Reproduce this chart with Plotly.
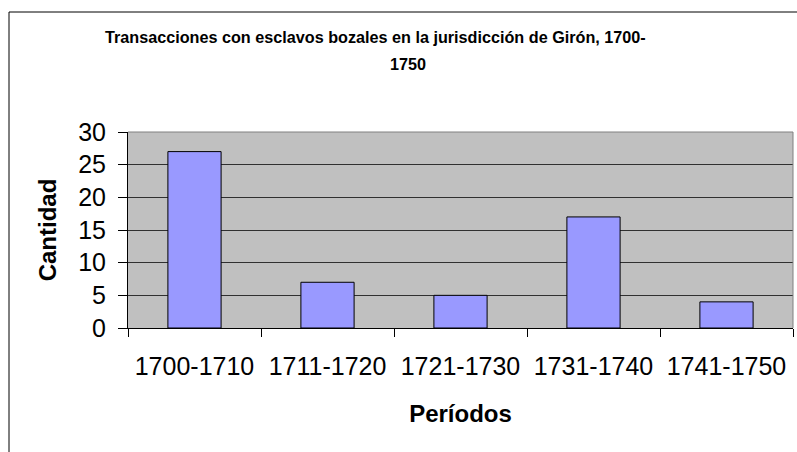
import plotly.graph_objects as go

# datos
periodos = ["1700-1710", "1711-1720", "1721-1730", "1731-1740", "1741-1750"]
cantidad = [27, 7, 5, 17, 4]

W, H = 797, 452
L, R, T, B = 128, 4, 132, 124
pw, ph = W - L - R, H - T - B


def px_x(x):
    return (x - L) / pw


def px_y(y):
    return (H - B - y) / ph


fig = go.Figure()
fig.add_trace(go.Bar(
    x=periodos, y=cantidad,
    marker=dict(color="#9999FF", line=dict(color="black", width=1)),
))

fig.update_layout(
    width=W, height=H,
    margin=dict(l=L, r=R, t=T, b=B),
    paper_bgcolor="white",
    plot_bgcolor="#C0C0C0",
    font=dict(family="Arial, Liberation Sans", color="black"),
    bargap=0.6,
    showlegend=False,
)

fig.update_xaxes(
    type="category",
    tickson="boundaries",
    ticks="outside", ticklen=8, tickcolor="black",
    showline=True, linecolor="black", linewidth=1,
    showgrid=False,
    tickfont=dict(size=25),
    ticklabelstandoff=16,
    automargin=False,
    title=dict(text="<b>Períodos</b>", font=dict(size=24), standoff=26),
)
fig.update_yaxes(
    range=[0, 30], dtick=5,
    ticks="outside", ticklen=9, tickcolor="black",
    showline=True, linecolor="black", linewidth=1,
    showgrid=True, gridcolor="#303030", gridwidth=1,
    zeroline=False,
    tickfont=dict(size=25),
    ticklabelstandoff=7,
    automargin=False,
    title=dict(text="<b>Cantidad</b>", font=dict(size=24), standoff=14),
)

# borde gris del área de trazado (arriba y derecha)
fig.add_shape(type="line", xref="paper", yref="paper", x0=0, x1=1, y0=1, y1=1,
              line=dict(color="#808080", width=1))
fig.add_shape(type="line", xref="paper", yref="paper", x0=1, x1=1, y0=0, y1=1,
              line=dict(color="#808080", width=1))

# borde exterior del gráfico
fig.add_shape(type="rect", xref="paper", yref="paper",
              x0=px_x(9), x1=px_x(W + 5), y0=px_y(H + 5), y1=px_y(12),
              line=dict(color="black", width=1), fillcolor="rgba(0,0,0,0)")

# título en dos líneas, como en el original
fig.add_annotation(text="<b>Transacciones con esclavos bozales en la jurisdicción de Girón, 1700-</b>",
                   xref="paper", yref="paper", x=px_x(375.5), y=px_y(37.5),
                   showarrow=False, font=dict(size=16.2), xanchor="center", yanchor="middle")
fig.add_annotation(text="<b>1750</b>",
                   xref="paper", yref="paper", x=px_x(408), y=px_y(64),
                   showarrow=False, font=dict(size=16.2), xanchor="center", yanchor="middle")

# sin margen del body para que el gráfico ocupe la ventana
fig.write_html("out.html", config={"displayModeBar": False},
               post_script="document.body.style.margin='0';")
